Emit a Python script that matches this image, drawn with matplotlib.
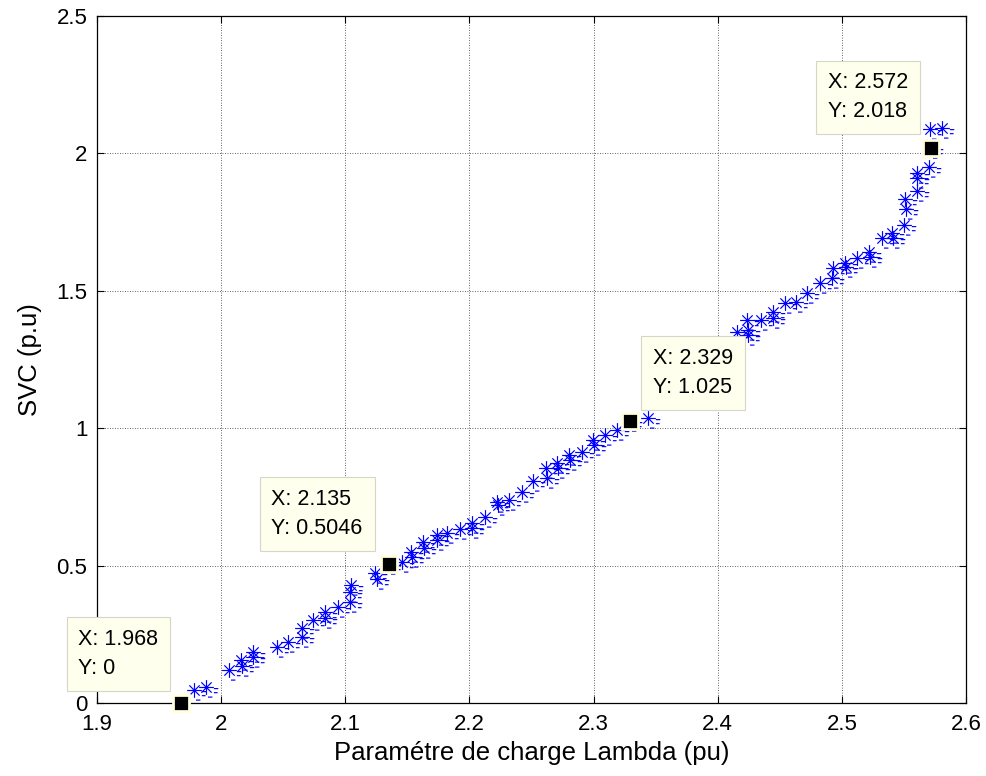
import numpy as np
import matplotlib
matplotlib.use('Agg')
import matplotlib.pyplot as plt
from matplotlib.path import Path
from matplotlib.markers import MarkerStyle

plt.rcParams['font.family'] = ['Liberation Sans', 'DejaVu Sans']

# Data
lam = [1.968, 1.9781, 1.9878, 2.0063, 2.0160, 2.0168, 2.0257, 2.0257, 2.0450, 2.0539,
       2.0651, 2.0651, 2.0740, 2.0837, 2.0837, 2.0941, 2.1038, 2.1038, 2.1046, 2.1239,
       2.1256, 2.135, 2.1457, 2.1529, 2.1537, 2.1626, 2.1634, 2.1739, 2.1739, 2.1819,
       2.1924, 2.2021, 2.2021, 2.2126, 2.2222, 2.2230, 2.2319, 2.2424, 2.2512, 2.2617,
       2.2625, 2.2706, 2.2714, 2.2802, 2.2810, 2.2907, 2.2996, 2.3004, 2.3092, 2.3189,
       2.329, 2.3439, 2.4156, 2.4236, 2.4244, 2.4244, 2.4349, 2.4446, 2.4446, 2.4542,
       2.4631, 2.4719, 2.4824, 2.4921, 2.4929, 2.5025, 2.5034, 2.5122, 2.5219, 2.5227,
       2.5324, 2.5404, 2.5412, 2.5501, 2.5509, 2.5517, 2.5605, 2.5605, 2.5605, 2.5702,
       2.572, 2.5710, 2.5807]
svc = [0.0, 0.047, 0.058, 0.120, 0.156, 0.135, 0.186, 0.167, 0.204, 0.222,
       0.273, 0.240, 0.302, 0.331, 0.309, 0.349, 0.367, 0.404, 0.429, 0.473,
       0.451, 0.5046, 0.513, 0.549, 0.531, 0.586, 0.564, 0.611, 0.593, 0.619,
       0.633, 0.655, 0.637, 0.677, 0.731, 0.721, 0.739, 0.768, 0.808, 0.855,
       0.819, 0.873, 0.855, 0.902, 0.884, 0.913, 0.957, 0.939, 0.975, 0.993,
       1.025, 1.037, 1.350, 1.394, 1.357, 1.339, 1.394, 1.423, 1.401, 1.456,
       1.459, 1.492, 1.528, 1.547, 1.583, 1.601, 1.587, 1.619, 1.641, 1.623,
       1.692, 1.710, 1.692, 1.739, 1.834, 1.798, 1.863, 1.929, 1.910, 1.950,
       2.018, 2.089, 2.093]

tip_x = [1.968, 2.135, 2.329, 2.572]
tip_y = [0.0, 0.5046, 1.025, 2.018]
tip_text = ['X: 1.968\nY: 0', 'X: 2.135\nY: 0.5046', 'X: 2.329\nY: 1.025', 'X: 2.572\nY: 2.018']

xticks = [1.9, 2.0, 2.1, 2.2, 2.3, 2.4, 2.5, 2.6]
xtick_labels = ['1.9', '2', '2.1', '2.2', '2.3', '2.4', '2.5', '2.6']
yticks = [0, 0.5, 1.0, 1.5, 2.0, 2.5]
ytick_labels = ['0', '0.5', '1', '1.5', '2', '2.5']

# Custom marker: asterisk with small dashes (as rendered in the reference)
verts = [(-1, 0), (1, 0), (0, -1), (0, 1), (-.7, -.7), (.7, .7), (-.7, .7), (.7, -.7),
         (1.0, -0.15), (1.6, -0.15), (1.0, -0.7), (1.5, -0.7), (0.2, -1.3), (0.8, -1.3)]
codes = [Path.MOVETO, Path.LINETO] * 7
star_dash = Path(verts, codes)

W, H = 987, 776
fig = plt.figure(figsize=(W / 100, H / 100), dpi=100)
ax = fig.add_axes([97 / W, 73 / H, 869 / W, 687 / H])

ax.plot(lam, svc, linestyle='none', marker=MarkerStyle(star_dash), markersize=17,
        markerfacecolor='none', markeredgecolor='#0000ff', markeredgewidth=0.85)

ax.set_xlim(1.9, 2.6)
ax.set_ylim(0, 2.5)
ax.set_xticks(xticks)
ax.set_xticklabels(xtick_labels)
ax.set_yticks(yticks)
ax.set_yticklabels(ytick_labels)
ax.tick_params(direction='in', length=5, width=0.8, labelsize=16, top=True, right=True,
               colors='black')
ax.tick_params(axis='x', pad=8)
ax.tick_params(axis='y', pad=7)
ax.grid(True, color='#303030', linestyle=(0, (1, 2)), linewidth=0.6)
for s in ax.spines.values():
    s.set_linewidth(0.9)

ax.set_xlabel('Paramétre de charge Lambda (pu)', fontsize=18.5, labelpad=4)
ax.set_ylabel('SVC (p.u)', fontsize=18.5, labelpad=10)

# Data tips
offsets = [(-11, 13, 'right'), (-14, 14, 'right'), (11, 12, 'left'), (-11, 15, 'right')]
for xv, yv, t, (dx, dy, ha) in zip(tip_x, tip_y, tip_text, offsets):
    ax.annotate(t, xy=(xv, yv), xytext=(dx + (-12 if ha == 'right' else 12), dy + 11),
                textcoords='offset pixels', ha=ha, va='bottom', multialignment='left',
                fontsize=15.5, linespacing=1.5, zorder=6, annotation_clip=False,
                bbox=dict(boxstyle='square,pad=0.55', fc='#ffffee', ec='#d6d6c8', lw=0.8))
    ax.plot([xv], [yv], marker='s', markersize=11, markerfacecolor='black',
            markeredgecolor='#ffffdd', markeredgewidth=2, zorder=7, clip_on=False)

fig.savefig('out.png', dpi=100)
